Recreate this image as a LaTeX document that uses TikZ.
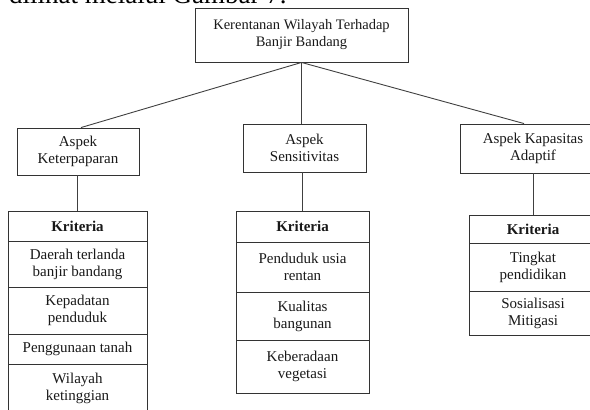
\documentclass[tikz,border=0pt]{standalone}
\usepackage{fontspec}
\setmainfont{Liberation Serif}
\begin{document}
\begin{tikzpicture}[x=1pt,y=-1pt,
  box/.style={draw=black!80, line width=0.9pt, align=center, inner sep=0pt,
    font=\fontsize{15}{17}\selectfont, text=black!90},
  link/.style={draw=black!75, line width=0.9pt}]
\clip (0,0) rectangle (590,410);
\node[anchor=base west, font=\fontsize{27}{30}\selectfont, inner sep=0pt] (cap) at (9,3.5) {dilihat melalui Gambar 7.};
% top
\node[box, minimum width=213pt, minimum height=54pt, font=\fontsize{14.5}{17}\selectfont] (top) at (301.5,35) {Kerentanan Wilayah Terhadap\\Banjir Bandang};
% aspects
\node[box, minimum width=122pt, minimum height=47pt] (A1) at (78,151.5) {Aspek\\Keterpaparan};
\node[box, minimum width=123pt, minimum height=48pt] (A2) at (304.5,148) {Aspek\\Sensitivitas};
\node[box, minimum width=146pt, minimum height=49pt] (A3) at (533,148.5) {Aspek Kapasitas\\Adaptif};
% left table
\node[box, minimum width=139pt, minimum height=30pt] (L0) at (77.5,226) {\textbf{Kriteria}};
\node[box, minimum width=139pt, minimum height=46pt] (L1) at (77.5,264) {Daerah terlanda\\banjir bandang};
\node[box, minimum width=139pt, minimum height=47pt] (L2) at (77.5,310.5) {Kepadatan\\penduduk};
\node[box, minimum width=139pt, minimum height=30pt] (L3) at (77.5,349) {Penggunaan tanah};
\node[box, minimum width=139pt, minimum height=48pt] (L4) at (77.5,388) {Wilayah\\ketinggian};
% middle table
\node[box, minimum width=133pt, minimum height=31pt] (M0) at (302.5,226.5) {\textbf{Kriteria}};
\node[box, minimum width=133pt, minimum height=50pt] (M1) at (302.5,267) {Penduduk usia\\rentan};
\node[box, minimum width=133pt, minimum height=48pt] (M2) at (302.5,316) {Kualitas\\bangunan};
\node[box, minimum width=133pt, minimum height=53pt] (M3) at (302.5,366.5) {Keberadaan\\vegetasi};
% right table
\node[box, minimum width=128pt, minimum height=28pt] (R0) at (533,229) {\textbf{Kriteria}};
\node[box, minimum width=128pt, minimum height=48pt] (R1) at (533,267) {Tingkat\\pendidikan};
\node[box, minimum width=128pt, minimum height=44pt] (R2) at (533,313) {Sosialisasi\\Mitigasi};
% connectors
\draw[link] (top.south) -- ([xshift=3pt]A1.north);
\draw[link] (top.south) -- (A2.north -| top.south);
\draw[link] (top.south) -- ([xshift=-9pt]A3.north);
\draw[link] (A1.south -| L0.north) -- (L0.north);
\draw[link] (A2.south -| M0.north) -- (M0.north);
\draw[link] (A3.south) -- (R0.north);
\end{tikzpicture}
\end{document}
